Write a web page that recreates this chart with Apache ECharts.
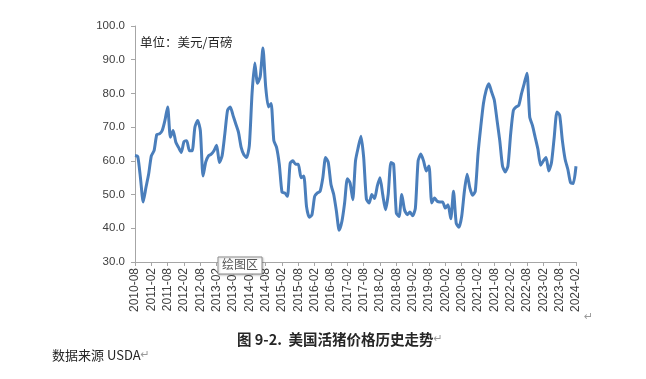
<!DOCTYPE html>
<html><head><meta charset="utf-8">
<script src="https://cdn.jsdelivr.net/npm/echarts@6/dist/echarts.min.js"></script>
<style>html,body{margin:0;padding:0;background:#fff}#c{width:646px;height:379px}</style>
</head><body><div id="c"></div>
<script>
// Monthly US live hog price, USD per cwt, 2010-08 .. 2024-02
const startYear = 2010, startMonth = 8, monthCount = 163;
const categories = [];
for (let i = 0; i < monthCount; i++) {
  const t = (startMonth - 1) + i;
  const y = startYear + Math.floor(t / 12), m = (t % 12) + 1;
  categories.push(y + '-' + (m < 10 ? '0' + m : m));
}
const prices = [
  61.6,61.3,55,47.8,52,56,61.5,63,67.8,68,69,72,
  76,67,69,65.5,64,62.5,65.7,66,63,63,70,72,
  69,55.5,59.7,61.5,62,63,64.6,59.5,61.5,68,75,76,
  73.5,71,68.5,64,61.8,61,64.5,80,89,83,85,93.5,
  82,76,77,66,64,59,50.7,50.5,49.5,59.3,60,59,
  59,55,55.5,46.5,43.3,44,49.5,50.5,51,55,61,59.5,
  53,50,45,39.4,42,47.5,54.7,53.5,48.5,60,64,67.3,
  61,48.7,47.5,50,48.8,52.5,55,50,45.5,50,59.5,59,
  44.5,43.5,50,45.5,44,44.8,43.7,46,60,62,60,57,
  58.5,47.5,49,48,47.8,47.8,46,47,42.8,51,41.5,40.3,
  43.5,51,56,52,49.8,51,62,70,77,81,82.9,80.4,
  78,72,66,58.5,56.7,58.5,68,75,76,76.5,80,83,
  86,73,70.5,67,63.5,58.7,60,61,57,59.5,67,74.5,
  73.5,66,60.5,57.5,53.5,53.3,58.4
];
const unitText = '单位：美元/百磅';
const captionText = '图 9-2.  美国活猪价格历史走势';
const sourceText = '数据来源 USDA';
const yMin = 30, yMax = 100, yStep = 10;

const chart = echarts.init(document.getElementById('c'), null, {renderer: 'canvas'});
chart.setOption({
  animation: false,
  backgroundColor: '#ffffff',
  grid: {left: 135, right: 70, top: 26, bottom: 117, containLabel: false},
  xAxis: {
    type: 'category', data: categories, boundaryGap: false,
    axisLine: {lineStyle: {color: '#A6A6A6', width: 1}},
    axisTick: {show: true, interval: 5, length: 4, lineStyle: {color: '#A6A6A6'}},
    axisLabel: {interval: 5, rotate: 90, color: '#404040', fontSize: 12,
      fontFamily: 'Liberation Sans', margin: 6},
    splitLine: {show: false}
  },
  yAxis: {
    type: 'value', min: yMin, max: yMax, interval: yStep,
    axisLine: {show: true, lineStyle: {color: '#A6A6A6', width: 1}},
    axisTick: {show: true, length: 4, lineStyle: {color: '#A6A6A6'}},
    axisLabel: {color: '#404040', fontSize: 11.5, fontFamily: 'Liberation Sans', margin: 10,
      formatter: v => v.toFixed(1)},
    splitLine: {show: false}
  },
  series: [{
    type: 'line', data: prices, showSymbol: false, smooth: 0.2,
    lineStyle: {color: '#4A7EBB', width: 3}
  }],
  graphic: [
    {type: 'text', left: 140, top: 36, style: {text: unitText, fill: '#262626',
      font: '12.5px "Noto Sans CJK SC"'}},
    {type: 'rect', z: 100, shape: {x: 218, y: 257, width: 44, height: 17},
      style: {fill: '#ffffff', stroke: '#8c8c8c', lineWidth: 1, shadowBlur: 2, shadowColor: 'rgba(0,0,0,0.2)', shadowOffsetX: 1, shadowOffsetY: 1}},
    {type: 'text', z: 101, left: 222, top: 258, style: {text: '绘图区', fill: '#555555',
      font: '12px "Noto Sans CJK SC"'}},
    {type: 'text', left: 584, top: 312, style: {text: '↵', fill: '#9a9a9a', font: '11px "DejaVu Sans"'}},
    {type: 'text', left: 237, top: 332, style: {
      text: '{t|' + captionText + '}{r|↵}',
      rich: {t: {fill: '#262626', font: 'bold 14.5px "Noto Sans CJK SC"'},
             r: {fill: '#9a9a9a', font: '11px "DejaVu Sans"'}}}},
    {type: 'text', left: 52, top: 349, style: {
      text: '{t|' + sourceText + '}{r|↵}',
      rich: {t: {fill: '#262626', font: '13px "Noto Sans CJK SC"'},
             r: {fill: '#9a9a9a', font: '11px "DejaVu Sans"'}}}}
  ]
});
</script></body></html>
